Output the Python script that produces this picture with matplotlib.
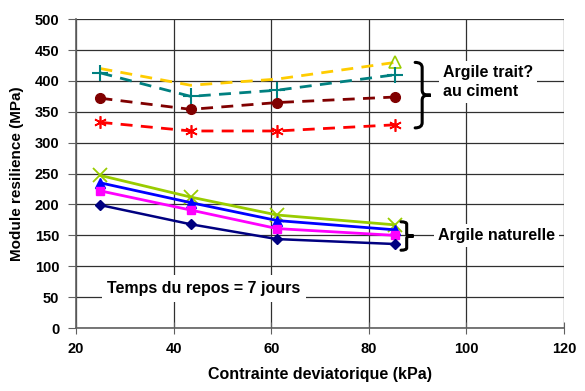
import numpy as np
import matplotlib.pyplot as plt
from matplotlib.path import Path
from matplotlib.patches import PathPatch

plt.rcParams['font.family'] = ['Liberation Sans', 'DejaVu Sans']
plt.rcParams['font.weight'] = 'bold'

# contrainte deviatorique (kPa)
x_kpa = [25, 43.5, 61.2, 85.4]

# argile traitee au ciment (pointilles)
traite_jaune = [420, 393, 403, 430]
traite_sarcelle = [413, 375, 385, 410]
traite_bordeaux = [372, 354, 365, 374]
traite_rouge = [333, 319, 319, 329]

# argile naturelle (traits pleins)
nat_vert = [247, 212, 183, 167]
nat_bleu = [235, 203, 174, 159]
nat_rose = [222, 191, 161, 150]
nat_marine = [199, 168, 144, 136]

x_ticks = [20, 40, 60, 80, 100, 120]
y_ticks = list(range(0, 501, 50))


def accolade(ax, x0, y_bas, y_haut, largeur, lw=2.2):
    """accolade fermante '}' en coordonnees donnees"""
    ym = (y_bas + y_haut) / 2
    h = y_haut - y_bas
    xm = x0 + largeur * 0.45
    xt = x0 + largeur
    r = h * 0.08
    verts = [
        (x0, y_haut), (xm, y_haut), (xm, y_haut - r),
        (xm, ym + r),
        (xm, ym), (xt - largeur * 0.3, ym), (xt, ym),
        (xt - largeur * 0.3, ym), (xm, ym), (xm, ym - r),
        (xm, y_bas + r),
        (xm, y_bas), (x0, y_bas),
    ]
    codes = [Path.MOVETO, Path.CURVE3, Path.CURVE3,
             Path.LINETO,
             Path.CURVE4, Path.CURVE4, Path.CURVE4,
             Path.CURVE4, Path.CURVE4, Path.CURVE4,
             Path.LINETO,
             Path.CURVE3, Path.CURVE3]
    ax.add_patch(PathPatch(Path(verts, codes), fill=False, lw=lw,
                           color='black', capstyle='round', zorder=5,
                           clip_on=False))


fig = plt.figure(figsize=(5.85, 3.91), dpi=100)
ax = fig.add_axes([0.130, 0.161, 0.834, 0.790])

tirets = (0, (4.3, 3))
ax.plot(x_kpa, traite_jaune, color='#FFCC00', lw=2, linestyle=tirets,
        marker='^', markevery=[3], ms=9, mfc='none', mec='#99CC00', mew=1.2, zorder=3)
ax.plot(x_kpa, traite_sarcelle, color='#008080', lw=2, linestyle=tirets,
        marker='+', ms=11, mew=1.5, zorder=3)
ax.plot(x_kpa, traite_bordeaux, color='#800000', lw=2, linestyle=tirets,
        marker='o', ms=7, zorder=3)
ax.plot(x_kpa, traite_rouge, color='#FF0000', lw=2, linestyle=tirets,
        marker=(6, 2, 0), ms=9, mew=1.2, zorder=3)

ax.plot(x_kpa, nat_vert, color='#99CC00', lw=2, marker='x', ms=10, mew=1.3, zorder=3)
ax.plot(x_kpa, nat_bleu, color='#0000FF', lw=2, marker='^', ms=7, zorder=3)
ax.plot(x_kpa, nat_rose, color='#FF00FF', lw=2, marker='s', ms=6, zorder=3)
ax.plot(x_kpa, nat_marine, color='#000080', lw=1.8, marker='D', ms=5, zorder=3)

ax.set_xlim(20, 120)
ax.set_ylim(0, 500)
ax.set_xticks(x_ticks)
ax.set_yticks(y_ticks)
ax.grid(True, color='#303030', lw=0.9)
ax.set_axisbelow(True)
for side in ['top', 'right']:
    ax.spines[side].set_visible(False)
for side in ['left', 'bottom']:
    ax.spines[side].set_color('#606060')
    ax.spines[side].set_linewidth(1.2)
ax.tick_params(axis='y', direction='out', length=6, color='#606060', labelsize=10.5, pad=6)
ax.tick_params(axis='x', direction='inout', length=8, color='#606060', labelsize=10.5, pad=6)

ax.set_xlabel('Contrainte deviatorique (kPa)', fontsize=11.5, fontweight='bold', labelpad=8)
ax.set_ylabel('Module resilience (MPa)', fontsize=11, fontweight='bold', labelpad=8)

accolade(ax, 89.5, 324, 430, 3.2)
accolade(ax, 86.6, 126, 172, 2.6)

boite = dict(facecolor='white', edgecolor='none', pad=3)
ax.text(95.2, 398, 'Argile trait?\nau ciment', fontsize=11.5, fontweight='bold',
        va='center', ha='left', linespacing=1.35, bbox=boite, zorder=6)
ax.text(94.2, 150, 'Argile naturelle', fontsize=11.5, fontweight='bold',
        va='center', ha='left', bbox=boite, zorder=6)
ax.text(26.4, 64, 'Temps du repos = 7 jours', fontsize=11.5, fontweight='bold',
        va='center', ha='left', bbox=dict(facecolor='white', edgecolor='none', pad=4), zorder=6)

fig.savefig('out.png', dpi=100)
